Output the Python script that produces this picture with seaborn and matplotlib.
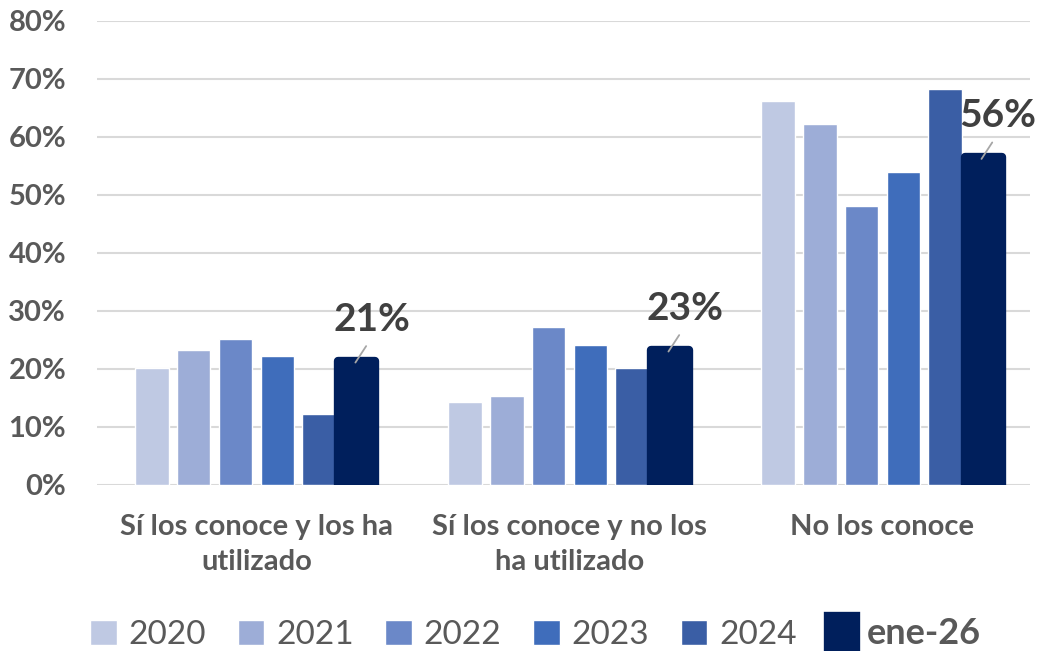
import matplotlib
matplotlib.use("Agg")
import matplotlib.pyplot as plt
import seaborn as sns
import pandas as pd

# data (percent)
categories = ["Sí los conoce y los ha\nutilizado", "Sí los conoce y no los\nha utilizado", "No los conoce"]
series = ["2020", "2021", "2022", "2023", "2024", "ene-26"]
v2020 = [20.2, 14.3, 66.2]
v2021 = [23.3, 15.3, 62.2]
v2022 = [25.2, 27.2, 48.1]
v2023 = [22.2, 24.1, 54.0]
v2024 = [12.2, 20.2, 68.3]
v_ene26 = [22.1, 24.0, 57.2]
labels_ene26 = ["21%", "23%", "56%"]
colors = ["#BFC9E3", "#9DADD7", "#6B88C8", "#3F6DBB", "#3A5EA5", "#001F5C"]

rows = []
for name, vals in zip(series, [v2020, v2021, v2022, v2023, v2024, v_ene26]):
    for cat, v in zip(categories, vals):
        rows.append({"cat": cat, "year": name, "val": v})
df = pd.DataFrame(rows)

sns.set_style("white")
plt.rcParams["font.family"] = ["Lato", "DejaVu Sans"]

fig = plt.figure(figsize=(10.4, 6.51), dpi=100)
ax = fig.add_axes([0.093, 0.255, 0.897, 0.713])

sns.barplot(data=df, x="cat", y="val", hue="year", palette=colors,
            width=0.8, gap=0.2, ax=ax, legend=False, saturation=1)

ax.set_xlim(-0.51, 2.47)
ax.set_ylim(0, 80)
ax.set_yticks(range(0, 81, 10))
ax.set_yticklabels([f"{t}%" for t in range(0, 81, 10)])
ax.set_axisbelow(True)
ax.yaxis.grid(True, color="#D9D9D9", lw=1.5)
ax.tick_params(axis="both", length=0, labelcolor="#595959")
ax.tick_params(axis="y", labelsize=21, pad=22)
ax.tick_params(axis="x", labelsize=21, pad=21)
for lab in ax.get_xticklabels() + ax.get_yticklabels():
    lab.set_fontweight("bold")
    lab.set_linespacing(1.4)
ax.set_xlabel("")
ax.set_ylabel("")
sns.despine(ax=ax, left=True, bottom=True)

# last series: wider bars with rounded tops
lw = 6
inv = ax.transData.inverted()
half_px = lw * fig.dpi / 72 / 2
dx = inv.transform((half_px, 0))[0] - inv.transform((0, 0))[0]
dy = inv.transform((0, half_px))[1] - inv.transform((0, 0))[1]
last = ax.containers[-1]
for p in last.patches:
    cx = p.get_x() + p.get_width() / 2 - 0.012
    new_w = 0.145
    p.set_x(cx - new_w / 2 + dx)
    p.set_width(new_w - 2 * dx)
    p.set_height(p.get_height() - dy)
    p.set_edgecolor(colors[-1])
    p.set_linewidth(lw)
    p.set_joinstyle("round")

for p, val, txt in zip(last.patches, v_ene26, labels_ene26):
    cx = p.get_x() + p.get_width() / 2
    ax.annotate(txt, xy=(cx - 0.005, val - 1), xytext=(12, 31), textcoords="offset points",
                ha="center", va="center", fontsize=28, fontweight="bold", color="#404040",
                arrowprops=dict(arrowstyle="-", color="#A6A6A6", lw=1.3,
                                relpos=(0.5, 0), shrinkA=5, shrinkB=0),
                annotation_clip=False)

handles = [c.patches[0] for c in ax.containers]
leg = fig.legend(handles, series, loc="lower center", bbox_to_anchor=(0.515, -0.045),
                 ncol=6, frameon=False, fontsize=24, handlelength=0.8, handleheight=0.8,
                 columnspacing=0.95, handletextpad=0.35, labelcolor="#595959")
leg.get_texts()[-1].set_fontweight("bold")
leg.get_texts()[-1].set_fontsize(26)
big = leg.legend_handles[-1]
hw, hh = big.get_width(), big.get_height()
big.set_height(hh * 1.35)
big.set_y(big.get_y() - hh * 0.2)
big.set_width(hw * 1.05)

fig.savefig("out.png", dpi=100)
